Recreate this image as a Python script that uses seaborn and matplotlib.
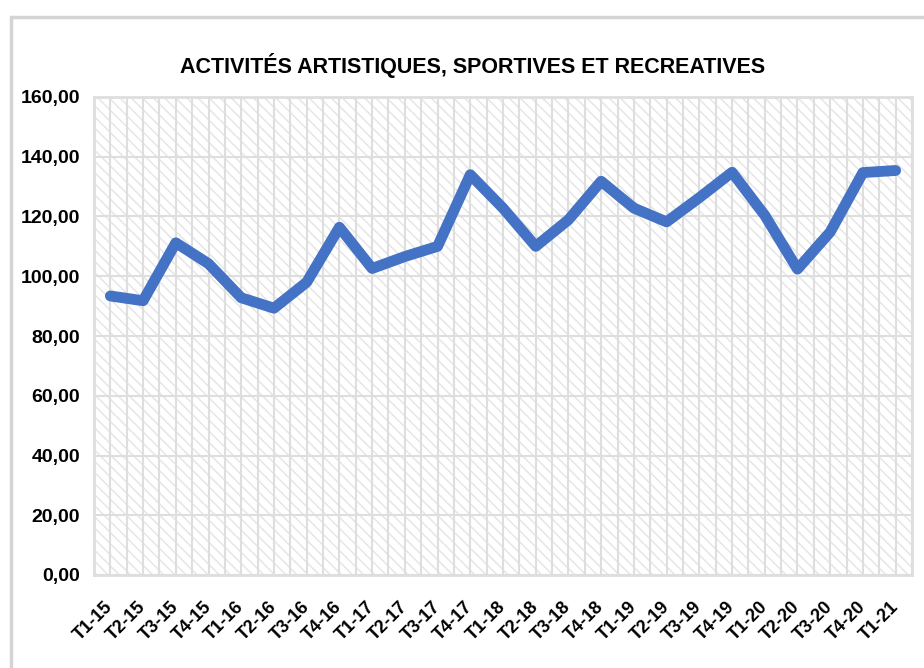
import matplotlib
matplotlib.use("Agg")
import matplotlib.pyplot as plt
import matplotlib.ticker as mticker
from matplotlib.patches import Rectangle
import seaborn as sns
import numpy as np
import pandas as pd

# quarters and index values
trimestres = ["T1-15", "T2-15", "T3-15", "T4-15",
              "T1-16", "T2-16", "T3-16", "T4-16",
              "T1-17", "T2-17", "T3-17", "T4-17",
              "T1-18", "T2-18", "T3-18", "T4-18",
              "T1-19", "T2-19", "T3-19", "T4-19",
              "T1-20", "T2-20", "T3-20", "T4-20",
              "T1-21"]
valeurs = [93.4, 91.8, 111.2, 104.2,
           92.8, 89.3, 98.0, 116.4,
           102.6, 106.6, 110.0, 134.0,
           122.8, 110.0, 118.9, 131.8,
           122.8, 118.2, 126.3, 134.8,
           120.4, 102.4, 114.8, 134.7,
           135.4]
yticks = [0, 20, 40, 60, 80, 100, 120, 140, 160]

titre = "ACTIVITÉS ARTISTIQUES, SPORTIVES ET RECREATIVES"
bleu = "#4472C4"
gris = "#dedede"

sns.set_theme(style="white")
plt.rcParams['font.family'] = ['Liberation Sans', 'DejaVu Sans']
plt.rcParams['hatch.linewidth'] = 1.1

df = pd.DataFrame({"trimestre": trimestres, "valeur": valeurs})

fig = plt.figure(figsize=(9.24, 6.68), dpi=100)
fig.patch.set_facecolor("white")

# outer chart frame (light grey border, cut at the right/bottom)
fig.patches.append(Rectangle((11 / 924, -0.1), 1.2, 1 - 17 / 668 + 0.1,
                             transform=fig.transFigure, fill=False,
                             edgecolor="#d4d4d4", linewidth=2.5, zorder=0))

ax = fig.add_axes([94 / 924, 93 / 668, 818 / 924, 478 / 668])

# hatched plot area background
ax.add_patch(Rectangle((0, 0), 1, 1, transform=ax.transAxes,
                       facecolor="white", edgecolor="#e6e6e6",
                       hatch="\\\\\\", linewidth=0, zorder=0))

sns.lineplot(data=df, x="trimestre", y="valeur", ax=ax, color=bleu,
             linewidth=7.8, sort=False, zorder=3,
             solid_capstyle="round", solid_joinstyle="round")

ax.set_xlim(-0.5, len(trimestres) - 0.5)
ax.set_ylim(0, 160)
ax.set_yticks(yticks)
ax.yaxis.set_major_formatter(mticker.FuncFormatter(lambda v, p: f"{v:.2f}".replace(".", ",")))
ax.set_xticks(range(len(trimestres)))
ax.set_xticks(np.arange(-0.5, len(trimestres), 1.0), minor=True)
ax.set_xticklabels(trimestres, rotation=45, ha="right", va="center",
                   rotation_mode="anchor", fontsize=13, fontweight="bold")
for lab in ax.get_yticklabels():
    lab.set_fontsize(14)
    lab.set_fontweight("bold")

ax.set_xlabel("")
ax.set_ylabel("")
ax.grid(True, which="major", axis="both", color=gris, linewidth=1.5, zorder=1)
ax.grid(True, which="minor", axis="x", color=gris, linewidth=1.5, zorder=1)
ax.set_axisbelow(True)
ax.tick_params(axis="x", which="both", length=0, pad=21, colors="black")
ax.tick_params(axis="y", length=0, pad=10, colors="black")
for s in ax.spines.values():
    s.set_color(gris)
    s.set_linewidth(2)

fig.text(473 / 924, 1 - 65 / 668, titre, ha="center", va="center",
         fontsize=15.5, fontweight="bold", color="black")

fig.savefig("out.png", dpi=100, facecolor="white")
